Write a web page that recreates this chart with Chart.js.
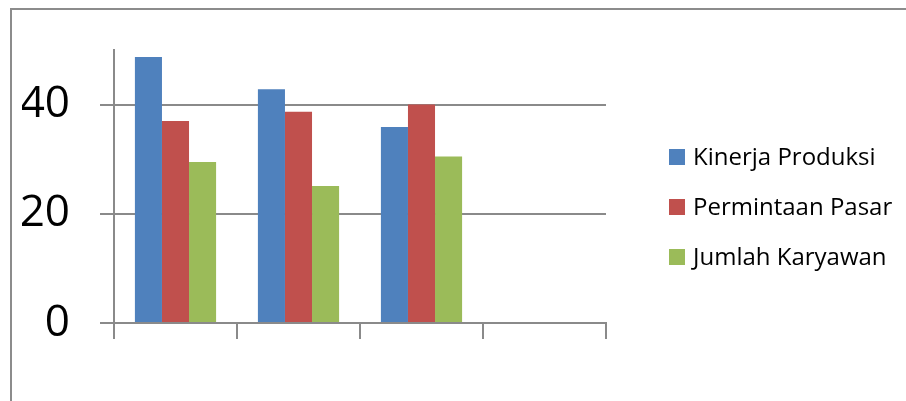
<!DOCTYPE html>
<html>
<head>
<meta charset="utf-8">
<script src="https://cdn.jsdelivr.net/npm/chart.js@4"></script>
<style>
    html, body { margin: 0; padding: 0; background: #fff; overflow: hidden; }
    #wrap { position: relative; width: 906px; height: 401px; }
    #frame {
        position: absolute; left: 10px; top: 8px; width: 900px; height: 400px;
        border-top: 2px solid #8c8c8c; border-left: 2px solid #8c8c8c;
    }
    #chart { position: absolute; left: 0; top: 0; }
</style>
</head>
<body>
<div id="wrap">
    <div id="frame"></div>
    <canvas id="chart" width="906" height="401"></canvas>
</div>
<script>
// Data
const categories = ['1', '2', '3', '4'];
const seriesNames = ['Kinerja Produksi', 'Permintaan Pasar', 'Jumlah Karyawan'];
const kinerjaProduksi = [48.7, 42.8, 35.9, null];
const permintaanPasar = [37.0, 38.7, 40.0, null];
const jumlahKaryawan = [29.5, 25.1, 30.5, null];
const yTicks = [0, 20, 40];

const colors = ['#4F81BD', '#C0504D', '#9BBB59'];
const lineColor = '#8a8a8a';
const fontFamily = "'Open Sans', sans-serif";

// Legend drawn to the right of the plot, like the spreadsheet one
const sideLegend = {
    id: 'sideLegend',
    afterDraw(chart) {
        const ctx = chart.ctx;
        const area = chart.chartArea;
        const x = area.right + 63;
        ctx.save();
        ctx.font = '24px ' + fontFamily;
        ctx.textBaseline = 'middle';
        chart.data.datasets.forEach((ds, i) => {
            const y = area.top + 107 + i * 50;
            ctx.fillStyle = ds.backgroundColor;
            ctx.fillRect(x, y - 8, 16, 16);
            ctx.fillStyle = '#000';
            ctx.fillText(ds.label, x + 24, y + 1);
        });
        ctx.restore();
    }
};

const seriesData = [kinerjaProduksi, permintaanPasar, jumlahKaryawan];

new Chart(document.getElementById('chart'), {
    type: 'bar',
    data: {
        labels: categories,
        datasets: seriesNames.map((name, i) => ({
            label: name,
            data: seriesData[i],
            backgroundColor: colors[i],
            borderWidth: 0,
            barPercentage: 1,
            categoryPercentage: 0.66
        }))
    },
    options: {
        responsive: false,
        animation: false,
        layout: { padding: { left: 22, top: 50, right: 300, bottom: 62 } },
        plugins: {
            legend: { display: false },
            tooltip: { enabled: false }
        },
        scales: {
            x: {
                grid: {
                    offset: true,
                    drawOnChartArea: false,
                    drawTicks: true,
                    tickLength: 16,
                    color: lineColor,
                    lineWidth: 2
                },
                border: { color: lineColor, width: 2 },
                ticks: { display: false }
            },
            y: {
                min: 0,
                max: 50,
                afterBuildTicks: scale => {
                    scale.ticks = yTicks.map(v => ({ value: v }));
                },
                afterFit: scale => {
                    scale.width = 92;
                    scale.paddingTop = 0;
                    scale.paddingBottom = 0;
                },
                grid: {
                    color: lineColor,
                    lineWidth: 2,
                    tickLength: 14
                },
                border: { color: lineColor, width: 2 },
                ticks: {
                    padding: 30,
                    color: '#000',
                    font: { family: fontFamily, size: 44 }
                }
            }
        }
    },
    plugins: [sideLegend]
});
</script>
</body>
</html>
